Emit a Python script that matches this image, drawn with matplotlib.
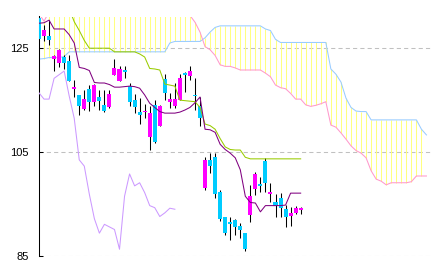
import numpy as np
import matplotlib
matplotlib.use('Agg')
import matplotlib.pyplot as plt

nan = np.nan

# daily candles
opens = [130.8, 127.4, 127.4, 122.9, 122.2, 123.3, 122.6, 117.2, 116.0, 113.3,
         117.2, 114.7, 115.6, 114.1, 113.6, 119.9, 118.6, 120.8, 117.8, 115.0,
         112.8, 112.7, 108.0, 114.1, 110.0, 119.1, 114.7, 113.9, 115.0, 120.1,
         119.7, 116.0, 113.9, 98.0, 103.5, 104.1, 97.4, 92.6, 91.6, 91.9,
         90.8, 89.5, 92.9, 97.9, 98.9, 103.3, 97.0, 95.4, 96.1, 94.0,
         92.7, 93.3, 93.9]
highs = [131.5, 129.4, 130.4, 123.7, 124.8, 123.7, 123.7, 118.9, 116.0, 117.0,
         118.0, 118.2, 117.0, 117.0, 117.0, 122.9, 121.5, 121.6, 118.3, 116.1,
         115.5, 114.3, 113.8, 115.0, 114.1, 120.0, 116.3, 118.3, 120.0, 120.5,
         121.5, 119.2, 115.7, 104.1, 104.8, 104.8, 97.7, 92.6, 92.6, 92.1,
         91.3, 89.5, 98.7, 101.2, 100.3, 103.8, 99.0, 96.9, 97.1, 94.8,
         94.5, 94.7, 94.5]
lows = [126.3, 126.3, 125.6, 120.7, 121.4, 121.0, 118.6, 115.7, 112.1, 113.1,
        112.9, 113.9, 113.1, 112.8, 113.4, 119.9, 118.6, 119.3, 113.9, 112.5,
        110.5, 111.5, 105.4, 106.7, 110.0, 115.0, 113.4, 113.4, 115.0, 116.6,
        118.9, 113.1, 110.0, 97.7, 100.9, 96.1, 91.8, 89.0, 88.1, 89.0,
        88.4, 86.0, 91.6, 96.7, 97.4, 97.4, 95.4, 92.6, 92.6, 90.6,
        90.8, 93.0, 93.1]
closes = [126.8, 128.5, 126.5, 123.5, 124.7, 122.2, 118.6, 117.4, 113.9, 115.2,
          114.6, 117.9, 114.9, 113.0, 116.1, 121.1, 121.0, 120.5, 114.7, 113.7,
          112.1, 112.9, 112.6, 107.0, 113.9, 116.4, 115.2, 115.2, 119.2, 119.9,
          120.6, 115.8, 111.5, 103.5, 102.3, 96.9, 92.2, 89.4, 91.1, 90.6,
          90.1, 86.3, 96.5, 100.8, 98.5, 99.1, 97.2, 94.7, 94.3, 92.6,
          93.3, 94.2, 94.0]

# ichimoku lines
tenkan = [129.8, 129.9, 130.4, 128.7, 128.7, 128.7, 127.6, 126.0, 121.3, 121.1,
          120.7, 118.4, 118.3, 118.3, 118.0, 117.5, 117.5, 117.6, 117.7, 117.6,
          117.3, 116.0, 114.4, 113.6, 112.8, 112.5, 112.5, 112.5, 112.7, 113.1,
          113.6, 114.5, 115.6, 109.4, 109.3, 108.8, 106.5, 105.5, 104.8, 103.9,
          101.6, 96.5, 95.3, 95.2, 93.5, 94.7, 94.7, 94.7, 94.7, 94.8,
          97.1, 97.1, 97.1]
kijun = [nan, nan, nan, nan, nan, nan, 132.6, 130.1, 128.4, 126.5,
         125.0, 125.0, 125.0, 125.0, 125.0, 124.3, 124.3, 124.3, 124.3, 124.3,
         123.9, 123.3, 121.1, 121.0, 120.8, 118.1, 117.9, 117.7, 115.0, 114.9,
         114.8, 114.7, 113.6, 110.4, 110.1, 109.4, 107.6, 106.0, 105.5, 105.4,
         105.4, 104.0, 103.7, 103.7, 103.7, 103.7, 103.7, 103.7, 103.7, 103.7,
         103.7, 103.7, 103.7]
senkou_a = [122.9, 123.0, 123.2, 123.2, 123.2, 123.4] + [124.3] * 20 + \
           [126.0] + [126.3] * 6 + [127.0, 128.1, 129.0] + [129.3] * 9 + \
           [128.7, 128.4, 126.7] + [126.1] * 10 + \
           [121.0, 120.0, 118.5, 115.4, 113.6, 112.9, 112.8, 112.8] + \
           [111.2] * 10 + [109.4, 108.3]
senkou_b = [131.6, 130.2] + [132.0] * 28 + \
           [131.3, 130.0, 128.1, 125.3, 124.7, 123.6, 121.8, 121.5, 121.5, 121.2,
            120.8, 120.8, 120.8, 120.8, 120.8, 120.2, 119.5, 117.9, 117.4, 117.2,
            116.3, 115.2, 115.2, 114.1, 113.8, 114.0, 114.3, 114.7, 110.2, 109.8,
            108.7, 107.5, 106.2, 105.3, 104.8, 103.9, 101.4, 99.8, 99.4, 98.7,
            99.1, 99.1, 99.1, 99.1, 99.3, 100.4, 100.4, 100.4]
shift = 25

o = np.array(opens)
c = np.array(closes)
idx = np.arange(len(closes))
cloud_idx = np.arange(len(senkou_a))
chikou = c[shift:]
chikou_idx = np.arange(len(chikou))

fig = plt.figure(figsize=(4.32, 2.7), dpi=100)
ax = fig.add_axes([39 / 432, 14 / 270, 393 / 432, 239.5 / 270])

lw = 0.75

# cloud as vertical strokes
ax.vlines(cloud_idx[:-1], np.array(senkou_a[:-1]), np.array(senkou_b[:-1]),
          color='#ffff80', lw=lw, zorder=1)
ax.plot(cloud_idx, senkou_a, color='#99ccff', lw=lw, zorder=2)
ax.plot(cloud_idx, senkou_b, color='#ff99cc', lw=lw, zorder=2)

# candles
up = c >= o
colors = np.where(up, '#ff00ff', '#00ccff')
ax.vlines(idx, lows, highs, color='black', lw=lw, zorder=3)
ax.bar(idx, np.maximum(np.abs(c - o), 0.25), bottom=np.minimum(o, c), width=0.8,
       color=colors, linewidth=0, zorder=4, antialiased=False)

ax.plot(chikou_idx, chikou, color='#cc99ff', lw=lw, zorder=5)
ax.plot(idx, kijun, color='#99cc00', lw=lw, zorder=5)
ax.plot(idx, tenkan, color='#800080', lw=lw, zorder=5)

ax.set_xlim(0, 78.1)
ax.set_ylim(85, 131.1)
ax.set_yticks([85, 105, 125])
ax.set_xticks([])
ax.yaxis.grid(True, color='#c0c0c0', linestyle=(0, (4, 3)), lw=lw)
ax.set_axisbelow(True)
for s in ['top', 'right', 'bottom']:
    ax.spines[s].set_visible(False)
ax.spines['left'].set_linewidth(0.75)
ax.tick_params(axis='y', direction='in', length=3, width=0.75, pad=7.5,
               labelsize=8)
for lab in ax.get_yticklabels():
    lab.set_family('Liberation Sans')

fig.savefig('out.png', dpi=100)
